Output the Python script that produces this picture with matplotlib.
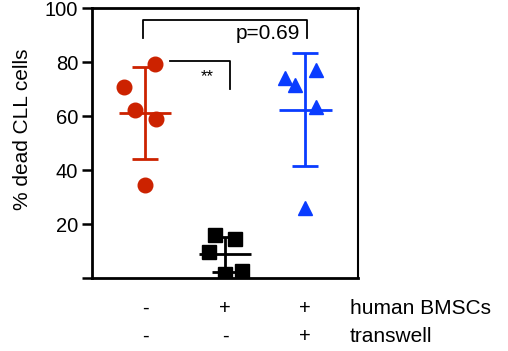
import matplotlib
matplotlib.use("Agg")
import matplotlib.pyplot as plt
import numpy as np

plt.rcParams["font.family"] = ["Liberation Sans", "DejaVu Sans"]

# data (% dead CLL cells)
ctrl = [70.7, 79.3, 62.2, 58.9, 34.4]
bmsc = [15.9, 14.3, 9.6, 1.5, 2.6]
transwell = [74.0, 71.5, 77.0, 63.3, 26.0]
groups = [ctrl, bmsc, transwell]
colors = ["#cc2200", "#000000", "#0a3cff"]
markers = ["o", "s", "^"]

yticks = [0, 20, 40, 60, 80, 100]
yticklabels = ["", "20", "40", "60", "80", "100"]
row_names = ["human BMSCs", "transwell"]
row_signs = [["-", "+", "+"], ["-", "-", "+"]]
p_label = "p=0.69"
star_label = "**"

# horizontal scatter of the points inside each column
jitter = [
    [-0.26, 0.125, -0.125, 0.14, 0.0],
    [-0.125, 0.13, -0.2, 0.0, 0.21],
    [-0.25, -0.125, 0.13, 0.13, 0.0],
]

fig = plt.figure(figsize=(5.08, 3.51), dpi=100)
ax = fig.add_axes([0.181, 0.208, 0.524, 0.769])

for i, vals in enumerate(groups):
    x0 = i + 1
    v = np.array(vals)
    m = v.mean()
    sd = v.std(ddof=1)
    ax.plot(x0 + np.array(jitter[i]), v, linestyle="none", marker=markers[i],
            color=colors[i], markersize=10.5, zorder=3)
    ax.vlines(x0, m - sd, m + sd, color=colors[i], lw=2, zorder=2)
    ax.hlines([m - sd, m + sd], x0 - 0.165, x0 + 0.165, color=colors[i], lw=2, zorder=2)
    ax.hlines(m, x0 - 0.33, x0 + 0.33, color=colors[i], lw=2, zorder=2)

# significance brackets
ax.plot([0.975, 0.975, 3.02, 3.02], [88.9, 95.6, 95.6, 88.9], color="black", lw=1.3)
ax.text(2.53, 90.5, p_label, ha="center", va="center", fontsize=15)
ax.plot([1.31, 2.06, 2.06], [80.4, 80.4, 70.0], color="black", lw=1.3)
ax.text(1.78, 74.5, star_label, ha="center", va="center", fontsize=12)

ax.set_xlim(0.3375, 3.6625)
ax.set_ylim(0, 100)
ax.set_xticks([])
ax.set_yticks(yticks)
ax.set_yticklabels(yticklabels, fontsize=14.5)
ax.tick_params(axis="y", direction="out", length=7, width=1.8, pad=3)
ax.set_ylabel("% dead CLL cells", fontsize=15)
ax.yaxis.set_label_coords(-0.225, 0.55)

for side in ["left", "bottom", "top"]:
    ax.spines[side].set_linewidth(2)
ax.spines["right"].set_linewidth(1.5)

# condition table under the axis
row_y = [0.122, 0.041]
for r in range(2):
    for i, s in enumerate(row_signs[r]):
        fx = (ax.transData.transform((i + 1, 0))[0]) / fig.bbox.width
        fig.text(fx, row_y[r], s, ha="center", va="center", fontsize=14.5)
    fig.text(0.689, row_y[r], row_names[r], ha="left", va="center", fontsize=15)

fig.savefig("out.png", dpi=100)
